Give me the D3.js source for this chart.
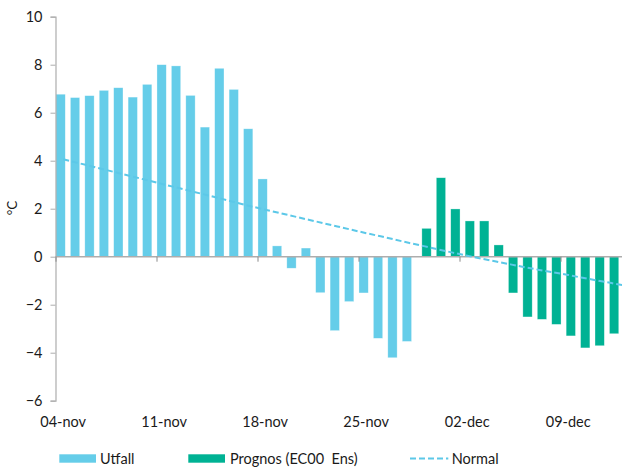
<!DOCTYPE html>
<html><head><meta charset="utf-8">
<script src="https://cdn.jsdelivr.net/npm/d3@7"></script>
<style>body{margin:0;background:#fff}svg{display:block}text{font-family:Lato,"Open Sans",sans-serif;fill:#1a1a1a;white-space:pre}</style>
</head><body><svg id="c" width="622" height="470"></svg>
<script>
const dates = ["04-nov","05-nov","06-nov","07-nov","08-nov","09-nov","10-nov","11-nov","12-nov","13-nov","14-nov","15-nov","16-nov","17-nov","18-nov","19-nov","20-nov","21-nov","22-nov","23-nov","24-nov","25-nov","26-nov","27-nov","28-nov","29-nov","30-nov","01-dec","02-dec","03-dec","04-dec","05-dec","06-dec","07-dec","08-dec","09-dec","10-dec","11-dec","12-dec","13-dec"];
const utfall = [6.77,6.63,6.71,6.93,7.04,6.65,7.18,8.0,7.95,6.72,5.40,7.85,6.97,5.33,3.24,0.45,-0.48,0.36,-1.50,-3.08,-1.87,-1.51,-3.40,-4.21,-3.53,null,null,null,null,null,null,null,null,null,null,null,null,null,null,null];
const prognos = [null,null,null,null,null,null,null,null,null,null,null,null,null,null,null,null,null,null,null,null,null,null,null,null,null,1.18,3.29,1.99,1.49,1.49,0.49,-1.51,-2.51,-2.61,-2.82,-3.30,-3.80,-3.71,-3.21,null];
const normal = [4.06,3.91,3.76,3.61,3.46,3.31,3.16,3.01,2.86,2.71,2.56,2.41,2.25,2.10,1.96,1.82,1.68,1.54,1.40,1.26,1.12,0.98,0.85,0.71,0.57,0.44,0.30,0.17,0.04,-0.08,-0.20,-0.32,-0.44,-0.55,-0.66,-0.76,-0.88,-0.99,-1.10,-1.21];
const yTicks = [-6,-4,-2,0,2,4,6,8,10];
const xLabels = ["04-nov","11-nov","18-nov","25-nov","02-dec","09-dec"];
const seriesNames = ["Utfall","Prognos (EC00  Ens)","Normal"];

const svg = d3.select("#c");
const mLeft = 56, mTop = 16.7, mBottom = 400.7;
const bw0 = 101/7;
const x = d3.scaleBand().domain(dates).range([mLeft, mLeft + dates.length*bw0]).padding(0);
const y = d3.scaleLinear().domain([-6,10]).range([mBottom, mTop]);
const bw = x.bandwidth();
const barW = bw*0.645;
const off = bw*0.18;
const cBlue = "#65CDE9", cGreen = "#00B294", cLine = "#5CC8E8", cAxis = "#ADADAD";

// bars
const g = svg.append("g");
g.selectAll("rect.u").data(dates.map((d,i)=>({d,v:utfall[i]})).filter(o=>o.v!=null)).join("rect")
  .attr("x", o=>x(o.d)+bw/2-off-barW/2).attr("width", barW)
  .attr("y", o=>y(Math.max(0,o.v))).attr("height", o=>Math.abs(y(o.v)-y(0)))
  .attr("fill", cBlue).attr("stroke","#fff").attr("stroke-opacity",0.5).attr("stroke-width",0.6);
g.selectAll("rect.p").data(dates.map((d,i)=>({d,v:prognos[i]})).filter(o=>o.v!=null)).join("rect")
  .attr("x", o=>x(o.d)+bw/2+off-barW/2).attr("width", barW)
  .attr("y", o=>y(Math.max(0,o.v))).attr("height", o=>Math.abs(y(o.v)-y(0)))
  .attr("fill", cGreen).attr("stroke","#fff").attr("stroke-opacity",0.5).attr("stroke-width",0.6);

// y axis
const ya = svg.append("g").attr("transform",`translate(${mLeft-0.5},0)`)
  .call(d3.axisLeft(y).tickValues(yTicks).tickSize(5).tickPadding(8).tickFormat(d3.format("d")));
ya.select(".domain").attr("stroke",cAxis).attr("stroke-width",1.2);
ya.selectAll(".tick line").attr("stroke",cAxis);
ya.selectAll(".tick text").attr("font-size",14.5).attr("fill","#1a1a1a").style("font-family","Lato,sans-serif");

// zero line with ticks at band starts
const xa = svg.append("g").attr("transform",`translate(0,${y(0)})`);
xa.append("line").attr("x1",mLeft-0.5).attr("x2",640).attr("stroke",cAxis).attr("stroke-width",1.5);
xa.selectAll("line.t").data(xLabels).join("line").attr("class","t")
  .attr("x1",d=>x(d)).attr("x2",d=>x(d)).attr("y1",0).attr("y2",5).attr("stroke","#8a8a8a");

// x labels at bottom
svg.append("g").selectAll("text").data(xLabels).join("text")
  .attr("x",d=>x(d)+bw/2).attr("y",427).attr("text-anchor","middle").attr("font-size",14.5).text(d=>d);

// normal line
const line = d3.line().x((v,i)=>x(dates[i])+bw/2).y(v=>y(v));
svg.append("path").datum(normal).attr("d",line).attr("fill","none")
  .attr("stroke",cLine).attr("stroke-width",2).attr("stroke-dasharray","6,3");

// y title
svg.append("text").attr("transform","translate(17,208) rotate(-90)").attr("text-anchor","middle")
  .attr("font-size",13.5).text("°C");

// legend
const ly = 458.5;
const lg = svg.append("g");
lg.append("rect").attr("x",59.3).attr("y",ly-4.2).attr("width",36.7).attr("height",8.4).attr("fill",cBlue);
lg.append("text").attr("x",100).attr("y",ly+5).attr("font-size",14.5).text(seriesNames[0]);
lg.append("rect").attr("x",188.3).attr("y",ly-4.2).attr("width",36.7).attr("height",8.4).attr("fill",cGreen);
lg.append("text").attr("x",230).attr("y",ly+5).attr("font-size",14.5).text(seriesNames[1]);
lg.append("line").attr("x1",410).attr("x2",448.3).attr("y1",ly).attr("y2",ly).attr("stroke",cLine).attr("stroke-width",2).attr("stroke-dasharray","6,3");
lg.append("text").attr("x",451.7).attr("y",ly+5).attr("font-size",14.5).text(seriesNames[2]);
</script></body></html>
